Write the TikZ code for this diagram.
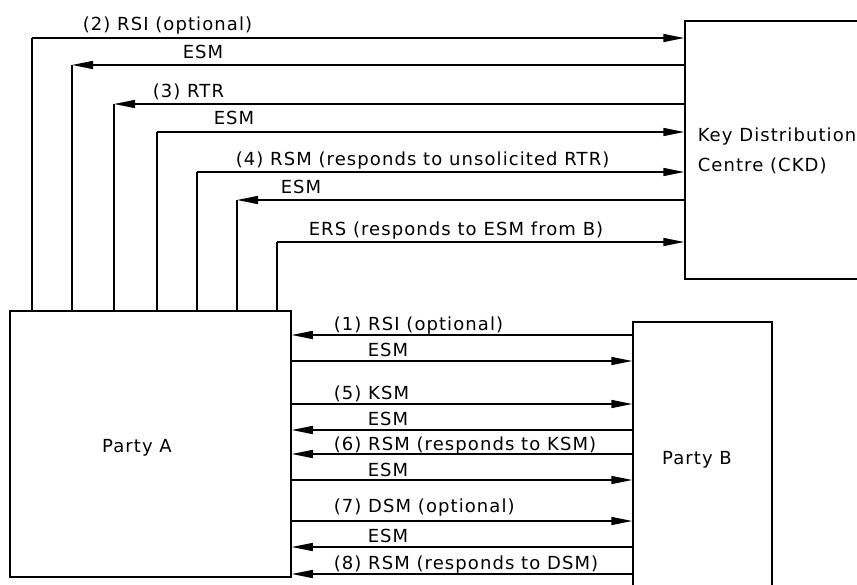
\documentclass[tikz,border=0pt]{standalone}
\usepackage{fontspec}
\setmainfont[LetterSpace=6]{DejaVu Sans}
\usetikzlibrary{arrows.meta,calc}
\begin{document}
\begin{tikzpicture}[x=1pt,y=-1pt,
  line width=1.5pt,
  box/.style={draw,rectangle,inner sep=0pt},
  tip/.style={-{Triangle[length=21pt,width=8pt]}},
  lbl/.style={anchor=base west,inner sep=0pt,font=\fontsize{18}{22}\selectfont},
  txt/.style={inner sep=0pt,font=\fontsize{18}{22}\selectfont}]
\useasboundingbox (0,0) rectangle (857,584);
% boxes
\node[box,minimum width=281pt,minimum height=266pt] (A) at (150.5,444) {};
\node[box,minimum width=139pt,minimum height=290pt] (B) at (702.5,467) {};
\node[box,minimum width=200pt,minimum height=258pt] (K) at (785,150) {};
\node[txt] (At) at (137,448) {Party A};
\node[txt] (Bt) at (697,460) {Party B};
\node[txt,anchor=west,align=left] (Kt) at (697,151) {Key Distribution\\[8pt]Centre (CKD)};
% top corners
\coordinate (t1) at (32,38);
\coordinate (t2) at (72,65);
\coordinate (t3) at (114,104);
\coordinate (t4) at (157,132);
\coordinate (t5) at (197,172);
\coordinate (t6) at (237,200);
\coordinate (t7) at (277,242);
\draw[tip] (t1) -- (t1 -| K.west);
\draw (t1) -- (t1 |- A.north);
\draw[tip] (t2 -| K.west) -- (t2);
\draw (t2) -- (t2 |- A.north);
\draw[tip] (t3 -| K.west) -- (t3);
\draw (t3) -- (t3 |- A.north);
\draw[tip] (t4) -- (t4 -| K.west);
\draw (t4) -- (t4 |- A.north);
\draw[tip] (t5) -- (t5 -| K.west);
\draw (t5) -- (t5 |- A.north);
\draw[tip] (t6 -| K.west) -- (t6);
\draw (t6) -- (t6 |- A.north);
\draw[tip] (t7) -- (t7 -| K.west);
\draw (t7) -- (t7 |- A.north);
\node[lbl] (l1) at (82,30) {(2) RSI (optional)};
\node[lbl] (l2) at (182,58) {ESM};
\node[lbl] (l3) at (152,97) {(3) RTR};
\node[lbl] (l4) at (213,124) {ESM};
\node[lbl] (l5) at (235,165) {(4) RSM (responds to unsolicited RTR)};
\node[lbl] (l6) at (280,193) {ESM};
\node[lbl] (l7) at (308,235) {ERS (responds to ESM from B)};
% bottom lines
\coordinate (b1) at (0,335);
\coordinate (b2) at (0,361);
\coordinate (b3) at (0,404);
\coordinate (b4) at (0,430);
\coordinate (b5) at (0,454);
\coordinate (b6) at (0,480);
\coordinate (b7) at (0,521);
\coordinate (b8) at (0,547);
\coordinate (b9) at (0,574);
\draw[tip] (b1 -| B.west) -- (b1 -| A.east);
\draw[tip] (b2 -| A.east) -- (b2 -| B.west);
\draw[tip] (b3 -| A.east) -- (b3 -| B.west);
\draw[tip] (b4 -| B.west) -- (b4 -| A.east);
\draw[tip] (b5 -| B.west) -- (b5 -| A.east);
\draw[tip] (b6 -| A.east) -- (b6 -| B.west);
\draw[tip] (b7 -| A.east) -- (b7 -| B.west);
\draw[tip] (b8 -| B.west) -- (b8 -| A.east);
\draw[tip] (b9 -| B.west) -- (b9 -| A.east);
\node[lbl] (m1) at (333,330) {(1) RSI (optional)};
\node[lbl] (m2) at (367,356) {ESM};
\node[lbl] (m3) at (333,399) {(5) KSM};
\node[lbl] (m4) at (367,425) {ESM};
\node[lbl] (m5) at (333,450) {(6) RSM (responds to KSM)};
\node[lbl] (m6) at (367,476) {ESM};
\node[lbl] (m7) at (333,512) {(7) DSM (optional)};
\node[lbl] (m8) at (367,542) {ESM};
\node[lbl] (m9) at (333,569) {(8) RSM (responds to DSM)};
\end{tikzpicture}
\end{document}
